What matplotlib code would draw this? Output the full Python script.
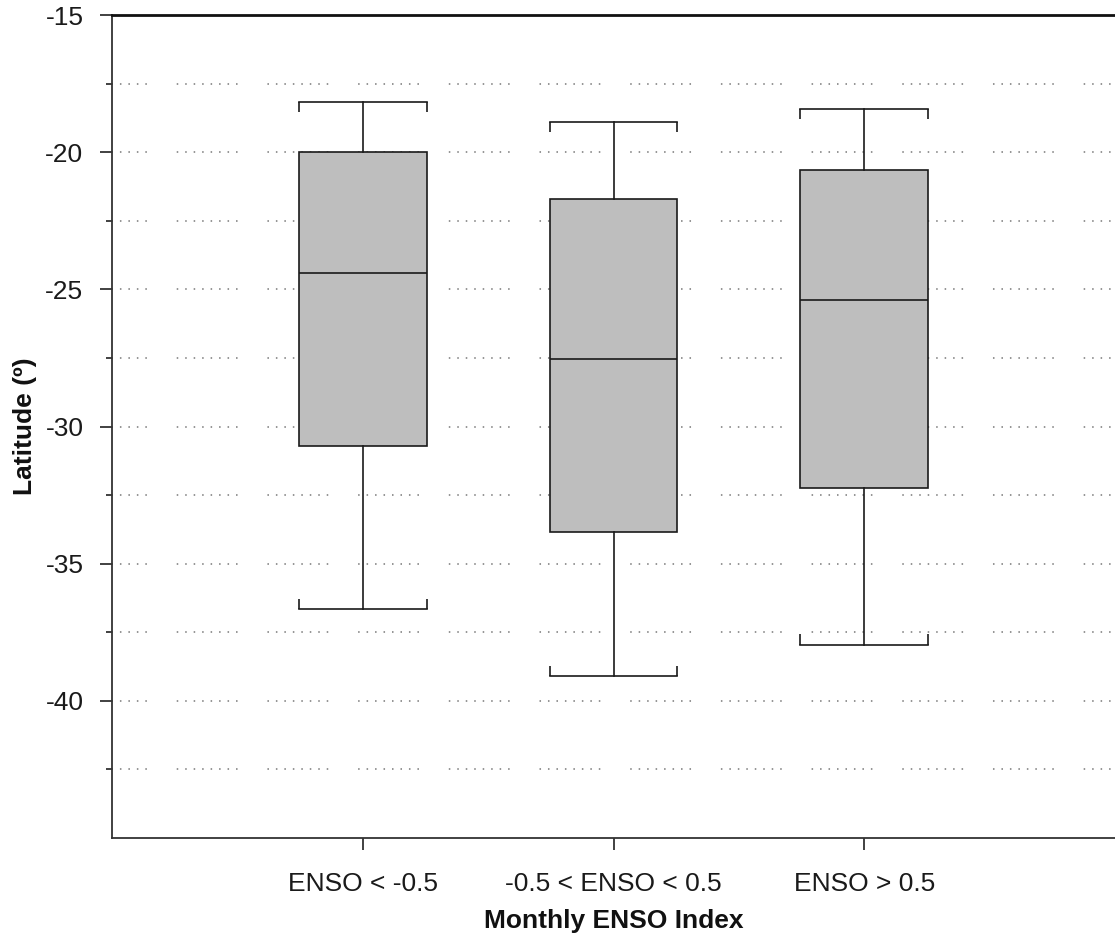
import matplotlib
matplotlib.use("Agg")
import matplotlib.pyplot as plt
import numpy as np

categories = ["ENSO < -0.5", "-0.5 < ENSO < 0.5", "ENSO > 0.5"]
whisker_high = [-18.16, -18.89, -18.42]
q3 = [-20.0, -21.69, -20.64]
median = [-24.42, -27.55, -25.40]
q1 = [-30.71, -33.84, -32.24]
whisker_low = [-36.64, -39.11, -37.95]

plt.rcParams['font.family'] = ['Liberation Sans', 'DejaVu Sans']
plt.rcParams['lines.scale_dashes'] = False
plt.rcParams['axes.unicode_minus'] = False

fig = plt.figure(figsize=(11.15, 9.41), dpi=100)
ax = fig.add_axes([112/1115, 1-838/941, 1-112/1115, (838-15)/941])

positions = np.arange(1, len(categories) + 1)
stats = []
for i, c in enumerate(categories):
    stats.append(dict(label=c, whislo=whisker_low[i], q1=q1[i], med=median[i],
                      q3=q3[i], whishi=whisker_high[i], fliers=[]))

width = 0.51
lc = '#1a1a1a'
ax.bxp(stats, positions=positions, widths=width, patch_artist=True,
       showfliers=False,
       boxprops=dict(facecolor='#BEBEBE', edgecolor=lc, linewidth=1.2),
       medianprops=dict(color=lc, linewidth=1.2),
       whiskerprops=dict(color=lc, linewidth=1.2),
       capprops=dict(color=lc, linewidth=1.2),
       capwidths=width, zorder=3)

# small end-ticks of the staples
tick_len = 0.37
for p, hi, lo in zip(positions, whisker_high, whisker_low):
    for xe in (p - width/2, p + width/2):
        ax.plot([xe, xe], [hi, hi - tick_len], color=lc, lw=1.2, zorder=3,
                solid_capstyle='butt')
        ax.plot([xe, xe], [lo, lo + tick_len], color=lc, lw=1.2, zorder=3,
                solid_capstyle='butt')

ax.set_xlim(0, 4)
ax.set_ylim(-45, -15)
ax.set_xticks(positions)
ax.set_xticklabels(categories)
ax.set_yticks([-15, -20, -25, -30, -35, -40])
ax.set_yticks(np.arange(-42.5, -15, 5), minor=True)

# grouped dotted gridlines
dots = []
for k in range(8):
    dots += [1.1, 5.0]
dots[-1] = 21.5
grid_y = np.arange(-42.5, -15.1, 2.5)
for gy in grid_y:
    ax.axhline(gy, color='#8c8c8c', lw=1.3, linestyle=(18.7, dots), zorder=1)

ax.spines['right'].set_visible(False)
ax.spines['top'].set_linewidth(2.0)
ax.spines['top'].set_color('#111111')
for s in ['left', 'bottom']:
    ax.spines[s].set_color('#333333')
    ax.spines[s].set_linewidth(1.3)

ax.tick_params(axis='y', which='major', length=8.6, width=1.3, color='#333333',
               labelsize=19, pad=12, labelcolor='#1a1a1a')
ax.tick_params(axis='y', which='minor', length=4, width=1.3, color='#333333')
ax.tick_params(axis='x', length=8.6, width=1.3, color='#333333', labelsize=19,
               pad=16, labelcolor='#1a1a1a')

ax.set_xlabel("Monthly ENSO Index", fontsize=19, fontweight='bold', labelpad=9.5,
              color='#111111')
ax.set_ylabel("Latitude (º)", fontsize=19, fontweight='bold', labelpad=6,
              color='#111111')

fig.savefig("out.png", dpi=100)
